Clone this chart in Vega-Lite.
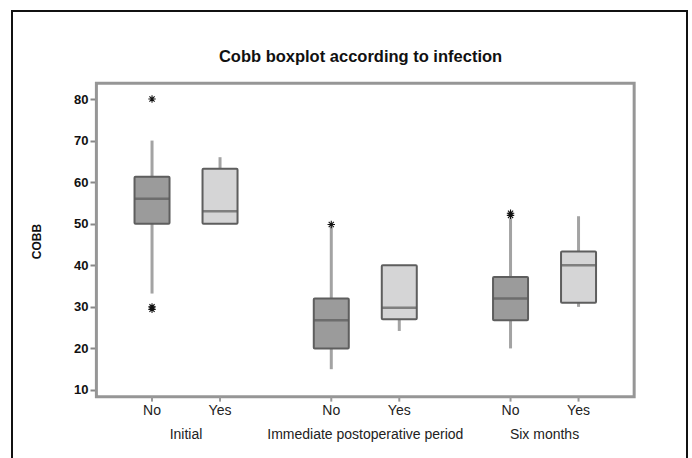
{
  "$schema": "https://vega.github.io/schema/vega-lite/v6.json",
  "width": 675,
  "height": 460,
  "padding": {"left": 12, "top": 11, "right": 5, "bottom": 0},
  "background": "white",
  "config": {
    "view": {"stroke": "#111", "strokeWidth": 2},
    "font": "Liberation Sans"
  },
  "title": {
    "text": "Cobb boxplot according to infection",
    "fontSize": 16.5,
    "fontWeight": "bold",
    "font": "Liberation Sans",
    "color": "#111",
    "offset": -54,
    "dx": 11
  },
  "datasets": {
    "boxes": [
      {"period": "Initial", "infection": "No", "lower": 33.2, "q1": 50, "median": 56, "q3": 61.3, "upper": 70},
      {"period": "Initial", "infection": "Yes", "lower": 50, "q1": 50, "median": 53, "q3": 63.2, "upper": 66},
      {"period": "Immediate postoperative period", "infection": "No", "lower": 15, "q1": 20, "median": 26.8, "q3": 32, "upper": 49.3},
      {"period": "Immediate postoperative period", "infection": "Yes", "lower": 24.2, "q1": 27, "median": 29.8, "q3": 40, "upper": 40},
      {"period": "Six months", "infection": "No", "lower": 20, "q1": 26.8, "median": 32, "q3": 37.2, "upper": 51.3},
      {"period": "Six months", "infection": "Yes", "lower": 30, "q1": 31, "median": 40, "q3": 43.3, "upper": 51.8}
    ],
    "outliers": [
      {"period": "Initial", "infection": "No", "value": 80},
      {"period": "Initial", "infection": "No", "value": 30},
      {"period": "Initial", "infection": "No", "value": 29.4},
      {"period": "Immediate postoperative period", "infection": "No", "value": 49.8},
      {"period": "Six months", "infection": "No", "value": 52.5},
      {"period": "Six months", "infection": "No", "value": 52.0}
    ]
  },
  "encoding": {
    "x": {
      "field": "period",
      "type": "nominal",
      "sort": ["Initial", "Immediate postoperative period", "Six months"],
      "scale": {"type": "band", "domain": ["Initial", "Immediate postoperative period", "Six months"], "paddingInner": 0, "paddingOuter": 0.3828, "align": 0.615},
      "axis": {
        "orient": "bottom",
        "offset": -74,
        "ticks": false,
        "domain": false,
        "labelPadding": 30,
        "labelAngle": 0,
        "labelFontSize": 14,
        "labelLimit": 0,
        "labelColor": "#222",
        "labelFont": "Liberation Sans",
        "title": null,
        "grid": false
      }
    },
    "xOffset": {
      "field": "infection",
      "type": "nominal",
      "scale": {"domain": ["No", "Yes"], "paddingInner": 0, "paddingOuter": 0.318}
    }
  },
  "layer": [
    {
      "data": {"name": "boxes"},
      "mark": {"type": "rule", "stroke": "#a3a3a3", "strokeWidth": 3},
      "encoding": {
        "y": {
          "field": "lower",
          "type": "quantitative",
          "scale": {"domain": [-9.49, 101.17], "nice": false, "zero": false},
          "axis": {
            "orient": "left",
            "offset": -83,
            "domain": false,
            "grid": false,
            "values": [10, 20, 30, 40, 50, 60, 70, 80],
            "tickColor": "#888",
            "tickWidth": 2,
            "tickSize": 5,
            "labelFont": "Liberation Sans",
            "labelFontWeight": "bold",
            "labelFontSize": 13,
            "labelColor": "#111",
            "labelPadding": 2,
            "title": "COBB",
            "titleFont": "Liberation Sans",
            "titleFontSize": 12,
            "titleFontWeight": "bold",
            "titleColor": "#111",
            "titlePadding": 30
          }
        },
        "y2": {"field": "upper"}
      }
    },
    {
      "data": {"name": "boxes"},
      "mark": {"type": "bar", "width": 35, "stroke": "#5e5e5e", "strokeWidth": 2, "cornerRadius": 1},
      "encoding": {
        "y": {"field": "q1", "type": "quantitative"},
        "y2": {"field": "q3"},
        "color": {
          "field": "infection",
          "type": "nominal",
          "scale": {"domain": ["No", "Yes"], "range": ["#9b9b9b", "#d5d5d6"]},
          "legend": null
        }
      }
    },
    {
      "data": {"name": "boxes"},
      "mark": {"type": "tick", "orient": "horizontal", "size": 35, "thickness": 2.5, "color": "#5a5a5a"},
      "encoding": {
        "y": {"field": "median", "type": "quantitative"}
      }
    },
    {
      "data": {"name": "outliers"},
      "mark": {
        "type": "point",
        "shape": "M-1,0L1,0M0,-1L0,1M-0.7,-0.7L0.7,0.7M-0.7,0.7L0.7,-0.7",
        "filled": false,
        "size": 55,
        "stroke": "#111",
        "strokeWidth": 1.1,
        "opacity": 1
      },
      "encoding": {
        "y": {"field": "value", "type": "quantitative"}
      }
    },
    {
      "data": {"values": [{}]},
      "mark": {"type": "rect", "fill": null, "fillOpacity": 0, "stroke": "#969696", "strokeWidth": 3},
      "encoding": {
        "x": {"datum": "Initial", "bandPosition": 0},
        "x2": {"datum": "Six months", "bandPosition": 1},
        "xOffset": null,
        "y": {"datum": 83.8, "type": "quantitative"},
        "y2": {"datum": 8.4}
      }
    },
    {
      "data": {"name": "boxes"},
      "mark": {"type": "rule", "stroke": "#9a9a9a", "strokeWidth": 2},
      "encoding": {
        "y": {"datum": 8.4, "type": "quantitative"},
        "y2": {"datum": 7.2}
      }
    },
    {
      "data": {"name": "boxes"},
      "mark": {"type": "text", "fontSize": 14, "font": "Liberation Sans", "color": "#222", "baseline": "middle"},
      "encoding": {
        "y": {"datum": 5, "type": "quantitative"},
        "text": {"field": "infection"}
      }
    }
  ]
}
